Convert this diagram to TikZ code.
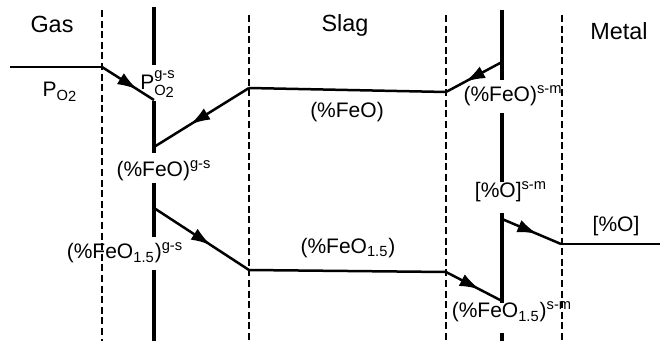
\documentclass[tikz,border=0pt]{standalone}
\usepackage{amsmath}
\usepackage{fontspec}
\setmainfont{Liberation Sans}
\usetikzlibrary{arrows.meta,decorations.markings}
\tikzset{iface/.style={line width=1.6pt}}
\tikzset{bound/.style={dash pattern=on 3.5pt off 1.8pt, line width=0.6pt}}
\tikzset{profile/.style={line width=1.25pt, line join=miter}}
\tikzset{midarrow/.style={postaction={decorate}, decoration={markings,
  mark=at position #1 with {\arrow{Latex[length=10pt,width=6.5pt]}}}}}
\tikzset{phase/.style={font=\fontsize{11.7}{14}\selectfont, inner sep=0pt}}
\tikzset{conc/.style={font=\fontsize{10.5}{12}\selectfont, inner sep=0pt}}
\def\supgs{$^{\text{g-s}}$}
\def\supsm{$^{\text{s-m}}$}

\begin{document}
\begin{tikzpicture}[x=0.5pt,y=-0.5pt]
  \useasboundingbox (0,0) rectangle (668,341);
  % phase boundaries and interfaces
  \foreach \x/\y in {102/10, 249/15, 446/15, 562/15}
    \draw[bound] (\x,\y) -- (\x,341);
  \foreach \a/\b in {7/65, 101/153, 183/237, 270/341}
    \draw[iface] (154,\a) -- (154,\b);
  \foreach \a/\b in {10/80, 113/182, 213/303, 333/341}
    \draw[iface] (502,\a) -- (502,\b);

  % phase names
  \node[phase] (gas) at (52,24) {Gas};
  \node[phase] (slag) at (345,25) {Slag};
  \node[phase] (metal) at (619,31) {Metal};

  % profile points
  \coordinate (gasL) at (10,67);
  \coordinate (gasI) at (102,67);
  \coordinate (pgs) at (154,100);
  \coordinate (feoGS) at (154,147);
  \coordinate (feoA) at (249,88);
  \coordinate (feoB) at (446,92);
  \coordinate (feoSM) at (502,62);
  \coordinate (fesGS) at (154,208);
  \coordinate (fesA) at (249,270);
  \coordinate (fesB) at (446,272);
  \coordinate (fesSM) at (502,301);
  \coordinate (oSM) at (502,219);
  \coordinate (oB) at (561,244);
  \coordinate (oR) at (660,244);

  % profiles
  \draw[profile] (gasL) -- (gasI);
  \draw[profile, midarrow=0.68] (gasI) -- (pgs);
  \draw[profile, midarrow=0.62] (feoA) -- (feoGS);
  \draw[profile, midarrow=0.66] (feoSM) -- (feoB);
  \draw[profile] (feoA) -- (feoB);
  \draw[profile, midarrow=0.6] (fesGS) -- (fesA);
  \draw[profile] (fesA) -- (fesB);
  \draw[profile, midarrow=0.6] (fesB) -- (fesSM);
  \draw[profile, midarrow=0.6] (oSM) -- (oB);
  \draw[profile] (oB) -- (oR);

  % concentration labels
  \node[conc] (po) at (60,92) {P$_{\text{O\raisebox{-.2ex}{2}}}$};
  \node[conc] (pogs) at (158,84) {P$^{\text{g-s}}_{\text{O\raisebox{-.2ex}{2}}}$};
  \node[conc] (feogs) at (164,171) {(\%FeO)\supgs};
  \node[conc] (fesgs) at (125,253) {(\%FeO$_{\text{1.5}}$)\supgs};
  \node[conc] (feo) at (347,112) {(\%FeO)};
  \node[conc] (fes) at (348,248) {(\%FeO$_{\text{1.5}}$)};
  \node[conc] (feosm) at (513,96) {(\%FeO)\supsm};
  \node[conc] (osm) at (511,192) {[\%O]\supsm};
  \node[conc] (o) at (616,226) {[\%O]};
  \node[conc] (fessm) at (512,312) {(\%FeO$_{\text{1.5}}$)\supsm};
\end{tikzpicture}
\end{document}
